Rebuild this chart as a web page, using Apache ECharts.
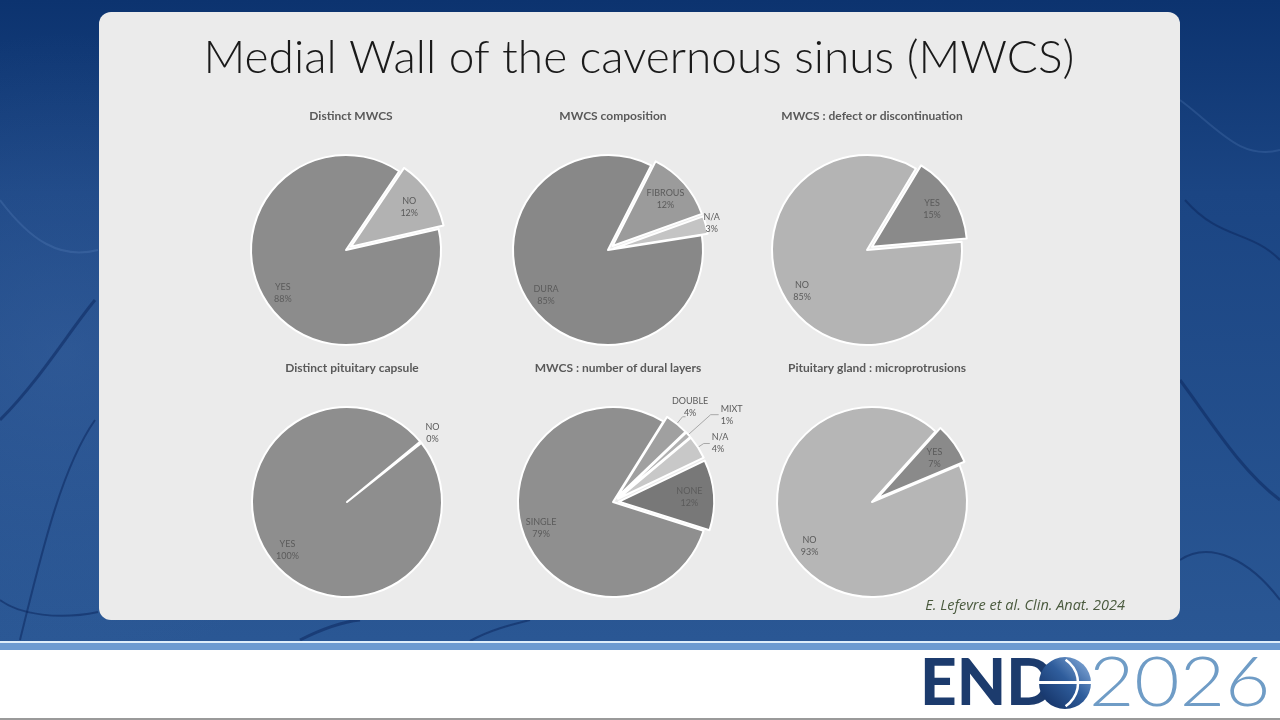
<!DOCTYPE html>
<html><head><meta charset="utf-8">
<script src="https://cdn.jsdelivr.net/npm/echarts@6/dist/echarts.min.js"></script>
<style>html,body{margin:0;padding:0;background:#fff;overflow:hidden}#c{width:1280px;height:720px}</style>
</head><body><div id="c"></div>
<script>
// ---- data ----
const mainTitle = 'Medial Wall of the cavernous sinus (MWCS)';
const citation = 'E. Lefevre et al. Clin. Anat. 2024';
const chartTitles = ['Distinct MWCS', 'MWCS composition', 'MWCS : defect or discontinuation',
  'Distinct pituitary capsule', 'MWCS : number of dural layers', 'Pituitary gland : microprotrusions'];
const distinctNames = ['NO', 'YES'];
const distinctValues = [12, 88];
const compositionNames = ['FIBROUS', 'N/A', 'DURA'];
const compositionValues = [12, 3, 85];
const defectNames = ['YES', 'NO'];
const defectValues = [15, 85];
const capsuleNames = ['NO', 'YES'];
const capsuleValues = [0, 100];
const layersNames = ['DOUBLE', 'MIXT', 'N/A', 'NONE', 'SINGLE'];
const layersValues = [4, 1, 4, 12, 79];
const protrusionNames = ['YES', 'NO'];
const protrusionValues = [7, 93];

// ---- styles ----
const FONT = 'Lato, "Open Sans", sans-serif';
const R = 95;
const LABEL_COLOR = '#5b5b5b';
const charts = [
  {names: distinctNames, values: distinctValues, colors: ['#b2b2b2', '#8c8c8c'], explode: [1, 0], center: [346, 250], start: 56, outside: {}},
  {names: compositionNames, values: compositionValues, colors: ['#9b9b9b', '#c4c4c4', '#888888'], explode: [1, 1, 0], center: [608, 250], start: 63,
    outside: {'N/A': {ring: 107}}},
  {names: defectNames, values: defectValues, colors: ['#8a8a8a', '#b4b4b4'], explode: [1, 0], center: [867, 250], start: 59, outside: {}},
  {names: capsuleNames, values: capsuleValues, colors: ['#ffffff', '#8e8e8e'], explode: [0, 0], center: [347, 502], start: 39.5, minAngle: 1,
    outside: {'NO': {ring: 110}}},
  {names: layersNames, values: layersValues, colors: ['#a0a0a0', '#b0b0b0', '#c8c8c8', '#787878', '#8f8f8f'], explode: [1, 1, 1, 1, 0], center: [613, 502], start: 58,
    outside: {
      'DOUBLE': {ring: 122, line: true, l1: 9, l2: 3},
      'MIXT': {line: true, text: true, l1: 30, l2: 8, gap: 2},
      'N/A': {line: true, text: true, l1: 7, l2: 6, gap: 2}
    }},
  {names: protrusionNames, values: protrusionValues, colors: ['#8a8a8a', '#b6b6b6'], explode: [1, 0], center: [872, 502], start: 48, outside: {}}
];

function labelStyle() {
  return {color: LABEL_COLOR, fontSize: 9, fontFamily: FONT, lineHeight: 12, formatter: '{b}\n{c}%'};
}

const series = [];
charts.forEach(function (c) {
  // main slices (+ leader lines / outside labels)
  series.push({
    type: 'pie', center: c.center, radius: [0, R], startAngle: c.start, clockwise: true,
    minAngle: c.minAngle || 0, avoidLabelOverlap: false, labelLayout: {hideOverlap: false},
    selectedMode: 'multiple', selectedOffset: 6,
    silent: true, animation: false, emphasis: {disabled: true},
    itemStyle: {borderColor: '#ffffff', borderWidth: 2},
    select: {itemStyle: {borderColor: '#ffffff', borderWidth: 2}},
    label: {show: false}, labelLine: {show: false},
    data: c.names.map(function (n, i) {
      const d = {name: n, value: c.values[i], selected: !!c.explode[i], itemStyle: {color: c.colors[i]}};
      const o = c.outside[n];
      if (o && o.line) {
        d.label = o.text
          ? Object.assign(labelStyle(), {show: true, position: 'outside', distanceToLabelLine: o.gap})
          : {show: true, position: 'outside', formatter: ' ', fontSize: 1, color: 'rgba(0,0,0,0)', distanceToLabelLine: 0};
        d.labelLine = {show: true, length: o.l1, length2: o.l2, smooth: false, lineStyle: {color: '#a8a8a8', width: 1}};
      }
      return d;
    })
  });
  // inside labels placed at ~0.8 r
  series.push({
    type: 'pie', center: c.center, radius: [R * 0.55, R], startAngle: c.start, clockwise: true,
    minAngle: c.minAngle || 0, avoidLabelOverlap: false, silent: true, animation: false, emphasis: {disabled: true},
    itemStyle: {color: 'rgba(0,0,0,0)', borderWidth: 0},
    label: Object.assign(labelStyle(), {show: true, position: 'inside'}),
    labelLine: {show: false},
    data: c.names.map(function (n, i) {
      return {name: n, value: c.values[i], label: {show: !c.outside[n]}};
    })
  });
  // centred outside labels on invisible rings
  const rings = [];
  Object.keys(c.outside).forEach(function (k) {
    const d = c.outside[k].ring;
    if (d && rings.indexOf(d) < 0) rings.push(d);
  });
  rings.forEach(function (d) {
    series.push({
      type: 'pie', center: c.center, radius: [R, 2 * (d - 3) - R], startAngle: c.start, clockwise: true,
      minAngle: c.minAngle || 0, avoidLabelOverlap: false, silent: true, animation: false, emphasis: {disabled: true},
      itemStyle: {color: 'rgba(0,0,0,0)', borderWidth: 0},
      label: Object.assign(labelStyle(), {show: true, position: 'inside'}),
      labelLine: {show: false},
      data: c.names.map(function (n, i) {
        const o = c.outside[n];
        return {name: n, value: c.values[i], label: {show: !!(o && o.ring === d)}};
      })
    });
  });
});

const titles = charts.map(function (c, i) {
  return {text: chartTitles[i], left: c.center[0], top: c.center[1] - 145, textAlign: 'center',
    textStyle: {fontFamily: FONT, fontSize: 12, fontWeight: 'bold', color: '#595959'}};
});

// veins decoration in background
function vein(pts, w, col) {
  return {type: 'bezierCurve', silent: true, z: -9,
    shape: {x1: pts[0], y1: pts[1], cpx1: pts[2], cpy1: pts[3], cpx2: pts[4], cpy2: pts[5], x2: pts[6], y2: pts[7]},
    style: {stroke: col, lineWidth: w, fill: null}};
}
const dark = 'rgba(12,40,95,0.55)';
const light = 'rgba(120,160,215,0.18)';

const graphic = [
  {type: 'rect', z: -10, silent: true, shape: {x: 0, y: 0, width: 1280, height: 641},
    style: {fill: new echarts.graphic.LinearGradient(0, 0, 0, 1, [
      {offset: 0, color: '#0c336f'}, {offset: 0.3, color: '#1b4583'}, {offset: 1, color: '#2a5794'}])}},
  {type: 'rect', z: -9, silent: true, shape: {x: 0, y: 0, width: 1280, height: 641},
    style: {fill: new echarts.graphic.RadialGradient(0.05, 0.55, 0.5, [
      {offset: 0, color: 'rgba(70,110,170,0.35)'}, {offset: 1, color: 'rgba(70,110,170,0)'}])}},
  vein([0, 420, 40, 380, 70, 330, 95, 300], 3, dark),
  vein([20, 640, 40, 560, 60, 470, 95, 420], 2, dark),
  vein([1180, 380, 1210, 420, 1240, 470, 1280, 500], 3, dark),
  vein([1180, 560, 1210, 540, 1250, 560, 1280, 600], 2, dark),
  vein([1185, 200, 1220, 240, 1250, 230, 1280, 260], 2, dark),
  vein([0, 200, 30, 240, 60, 260, 98, 250], 2, light),
  vein([300, 640, 320, 630, 340, 622, 360, 620], 3, dark),
  vein([470, 641, 490, 630, 510, 625, 530, 620], 2, dark),
  vein([1180, 100, 1220, 130, 1240, 160, 1280, 150], 2, light),
  vein([0, 600, 20, 615, 60, 620, 98, 612], 2, dark),
  {type: 'rect', z: -8, silent: true, shape: {x: 0, y: 641, width: 1280, height: 2}, style: {fill: '#dfeefa'}},
  {type: 'rect', z: -8, silent: true, shape: {x: 0, y: 643, width: 1280, height: 7}, style: {fill: '#6d9bd1'}},
  {type: 'rect', z: -8, silent: true, shape: {x: 0, y: 650, width: 1280, height: 68}, style: {fill: '#ffffff'}},
  {type: 'rect', z: -8, silent: true, shape: {x: 0, y: 718, width: 1280, height: 2}, style: {fill: '#9a9a9a'}},
  {type: 'rect', z: -7, silent: true, shape: {x: 99, y: 12, width: 1081, height: 608, r: 12}, style: {fill: '#ebebeb'}},
  {type: 'text', z: 5, silent: true, style: {text: mainTitle, x: 639, y: 58, align: 'center', verticalAlign: 'middle',
    font: '300 46px Lato, "Open Sans", sans-serif', fill: '#1a1a1a'}},
  {type: 'text', z: 5, silent: true, style: {text: citation, x: 1125, y: 606, align: 'right', verticalAlign: 'middle',
    font: 'italic 14.5px "Open Sans", Lato, sans-serif', fill: '#4a5a3e'}},
  // logo
  {type: 'text', z: 5, silent: true, style: {text: 'END', x: 920, y: 684, align: 'left', verticalAlign: 'middle',
    font: '900 64px Lato, sans-serif', fill: '#1c3b6d'}},
  {type: 'circle', z: 5, silent: true, shape: {cx: 1065, cy: 683, r: 26},
    style: {fill: new echarts.graphic.LinearGradient(1, 0, 0, 1, [
      {offset: 0, color: '#8fb4e0'}, {offset: 0.45, color: '#2f5d9c'}, {offset: 1, color: '#0f2a5c'}])}},
  {type: 'rect', z: 6, silent: true, shape: {x: 1038, y: 681, width: 54, height: 3}, style: {fill: '#ffffff'}},
  {type: 'arc', z: 6, silent: true, shape: {cx: 1050, cy: 683, r: 28, startAngle: -Math.PI / 3.2, endAngle: Math.PI / 3.2},
    style: {stroke: '#ffffff', lineWidth: 2.5, fill: null}},
  {type: 'text', z: 5, silent: true, x: 1089, y: 684, scaleX: 1.15, style: {text: '2026', x: 0, y: 0, align: 'left', verticalAlign: 'middle',
    font: '300 68px Lato, sans-serif', fill: '#6f9cc6'}}
];

const chart = echarts.init(document.getElementById('c'), null, {renderer: 'canvas'});
chart.setOption({backgroundColor: '#ffffff', animation: false, title: titles, graphic: {elements: graphic}, series: series});
</script>
</body></html>
